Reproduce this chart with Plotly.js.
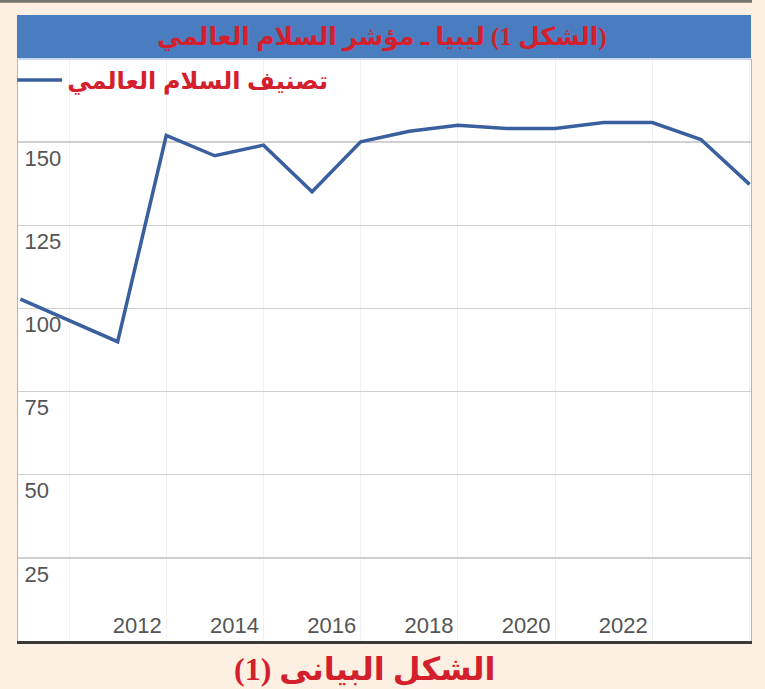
<!DOCTYPE html>
<html><head><meta charset="utf-8">
<script src="https://cdn.plot.ly/plotly-3.0.1.min.js"></script>
<style>html,body{margin:0;padding:0;background:#fdf0e2;}</style>
</head><body><div id="chart" style="width:765px;height:689px;"></div>
<script>
const years = [2009, 2011, 2012, 2013, 2014, 2015, 2016, 2017, 2018, 2019, 2020, 2021, 2022, 2023, 2024];
const peaceRank = [102.8, 90.0, 152.0, 145.9, 149.1, 135.1, 150.1, 153.3, 155.1, 154.1, 154.1, 155.9, 155.9, 150.8, 137.3];
const xTickVals = [2010, 2012, 2014, 2016, 2018, 2020, 2022, 2024];
const xTickText = ['', '2012', '2014', '2016', '2018', '2020', '2022', ''];
const yTickVals = [25, 50, 75, 100, 125, 150];
const seriesName = 'تصنيف السلام العالمي';
const chartTitle = '(الشكل 1) ليبيا ـ مؤشر السلام العالمي';
const caption = 'الشكل البيانى (1)';

const RED = '#d4202c';
const tickFont = {family: 'Liberation Sans, Arial, sans-serif', size: 22, color: '#555555'};

const trace = {
  x: years, y: peaceRank, type: 'scatter', mode: 'lines', name: seriesName,
  line: {color: '#3a5f9e', width: 3.5}, showlegend: true, hoverinfo: 'skip'
};

const layout = {
  width: 765, height: 689,
  margin: {l: 18, r: 14, t: 59, b: 48, pad: 0},
  paper_bgcolor: '#fdf0e2', plot_bgcolor: '#ffffff',
  showlegend: true,
  legend: {x: -0.008, y: 1.002, xanchor: 'left', yanchor: 'top', bgcolor: 'rgba(0,0,0,0)',
    itemwidth: 45,
    font: {family: 'Liberation Sans, DejaVu Sans, sans-serif', size: 24, color: RED, weight: 'bold'}},
  xaxis: {range: [2008.95, 2024.03], tickvals: xTickVals, ticktext: xTickText,
    showgrid: true, gridcolor: '#f0f0f0', gridwidth: 1, zeroline: false,
    showline: true, linecolor: '#3a3a3a', linewidth: 2.5, ticks: '',
    ticklabelposition: 'inside', ticklabelshift: -29, ticklabelstandoff: 5,
    tickfont: tickFont, fixedrange: true},
  yaxis: {range: [0, 175], tickvals: yTickVals,
    showgrid: true, gridcolor: '#cfcfcf', gridwidth: 1.5, zeroline: false,
    showline: true, linecolor: '#b5b5b5', linewidth: 1, mirror: true, ticks: '',
    ticklabelposition: 'inside', ticklabelshift: 16, ticklabelstandoff: 8,
    tickfont: tickFont, fixedrange: true},
  shapes: [
    {type: 'rect', xref: 'paper', yref: 'paper', x0: -0.0246, x1: 1.0014, y0: 1.0967, y1: 1.11,
      fillcolor: '#78766e', line: {width: 0}, layer: 'above'},
    {type: 'rect', xref: 'paper', yref: 'paper', x0: -0.0014, x1: 1.0, y0: 1.0, y1: 1.0755,
      fillcolor: '#4a7dc0', line: {width: 0}, layer: 'above'},
    {type: 'line', xref: 'paper', yref: 'paper', x0: -0.0014, x1: 1.0, y0: 1.0, y1: 1.0,
      line: {color: '#c8d8ee', width: 2}, layer: 'above'}
  ],
  annotations: [
    {text: '\u202B' + chartTitle + '\u202C', xref: 'paper', yref: 'paper', x: 0.497, y: 1,
      xanchor: 'center', yanchor: 'middle', yshift: 22, showarrow: false,
      font: {family: 'Liberation Serif, DejaVu Sans, serif', size: 25, color: RED, weight: 'bold'}},
    {text: '\u202B' + caption + '\u202C', xref: 'paper', yref: 'paper', x: 0.4734, y: 0,
      xanchor: 'center', yanchor: 'middle', yshift: -28, showarrow: false,
      font: {family: 'Liberation Serif, DejaVu Sans, serif', size: 32, color: RED, weight: 'bold'}}
  ]
};

Plotly.newPlot('chart', [trace], layout, {displayModeBar: false, staticPlot: true});
</script>
</body></html>
